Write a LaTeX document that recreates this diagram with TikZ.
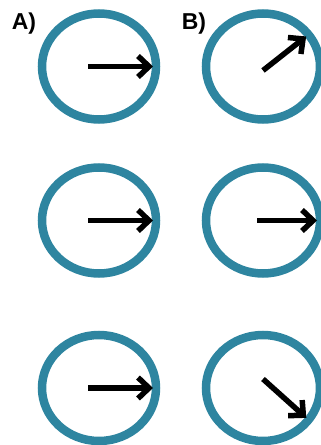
\documentclass[tikz,border=0pt]{standalone}
\usepackage{xcolor}
\usepackage{fontspec}
\setmainfont{Liberation Sans}
\usepackage{tikz}
\usetikzlibrary{arrows.meta,shapes.geometric,positioning,calc}
\definecolor{ringteal}{RGB}{46,133,160}

\begin{document}
\begin{tikzpicture}[
    x=1pt, y=1pt,
    >={Straight Barb[length=11pt,width=21pt]},
    on grid,
    ring/.style={draw=ringteal, ellipse, line width=8.5pt,
        minimum width=114pt, minimum height=106pt,
        inner sep=0pt, outer sep=0pt},
    panellbl/.style={font=\bfseries\fontsize{23}{23}\selectfont},
    needle/.style={->, line width=5.5pt, shorten >=3pt}
]
\useasboundingbox (0,0) rectangle (321,445);
\node[ring] (A1) at (99,378.5) {};
\node[ring, below=154pt of A1] (A2) {};
\node[ring, below=167.5pt of A2] (A3) {};
\node[ring, right=164pt of A1] (B1) {};
\node[ring, right=164pt of A2] (B2) {};
\node[ring, right=164pt of A3] (B3) {};
\node[panellbl] (labA) at (24,421.5) {A)};
\node[panellbl] (labB) at (194,421.5) {B)};
% arrow tails
\coordinate (tA1) at ($(A1.center)+(-11,0)$);
\coordinate (tA2) at ($(A2.center)+(-11,0)$);
\coordinate (tA3) at ($(A3.center)+(-11,0)$);
\coordinate (tB1) at ($(B1.center)+(0,-4)$);
\coordinate (tB2) at ($(B2.center)+(-6,0)$);
\coordinate (tB3) at ($(B3.center)+(0,9)$);
\draw[needle] (tA1) -- (A1.east);
\draw[needle] (tA2) -- (A2.east);
\draw[needle] (tA3) -- (A3.east);
\draw[needle] (tB1) -- (B1.35);
\draw[needle] (tB2) -- (B2.east);
\draw[needle] (tB3) -- (B3.-35);
\end{tikzpicture}
\end{document}
